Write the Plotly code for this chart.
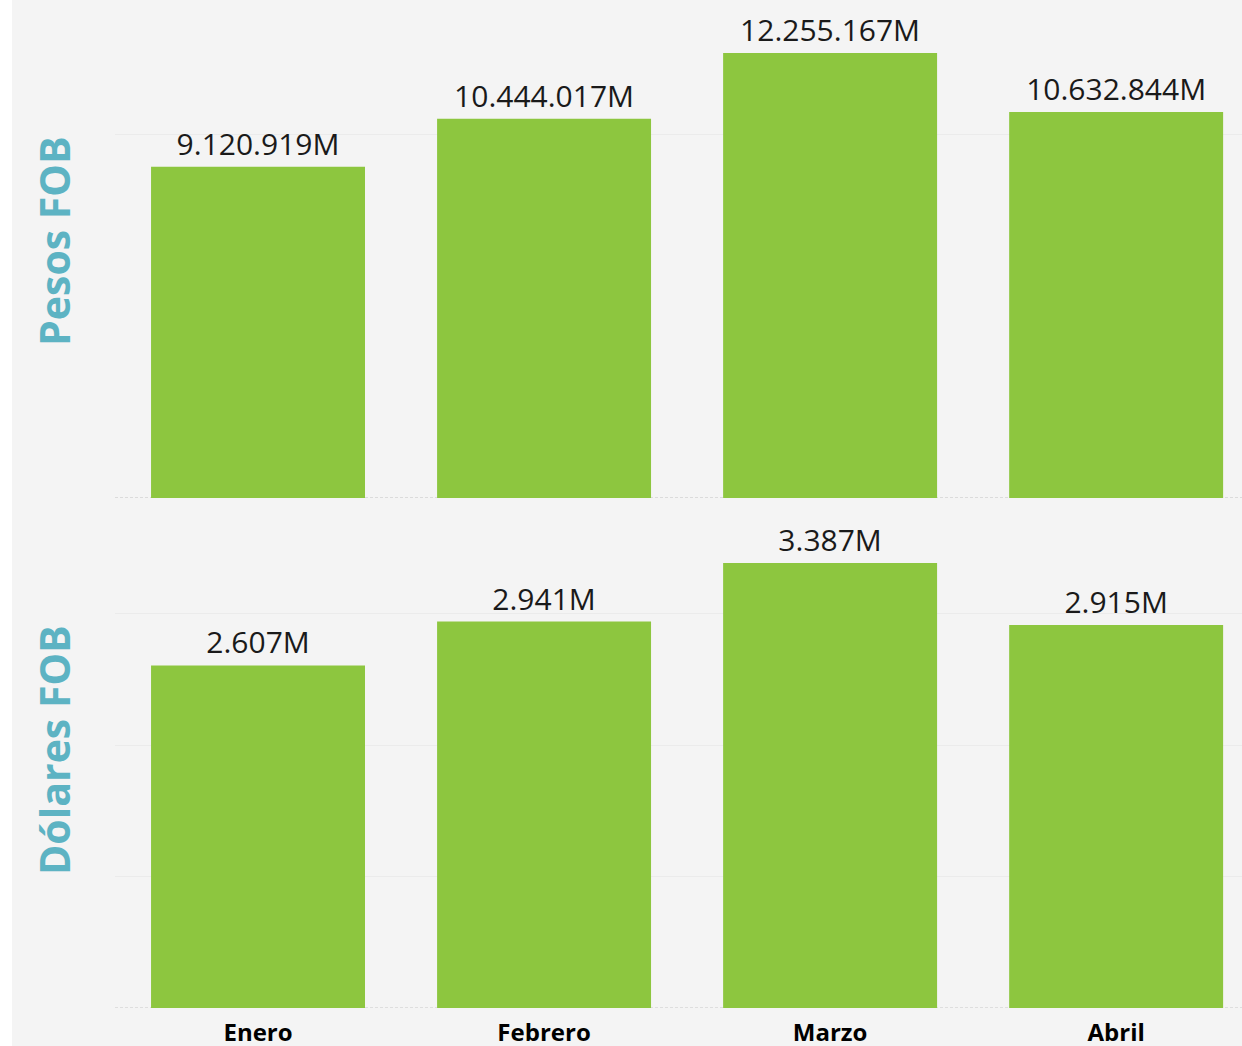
import plotly.graph_objects as go
from plotly.subplots import make_subplots

meses = ["Enero", "Febrero", "Marzo", "Abril"]
pesos_fob_millones = [9120919, 10444017, 12255167, 10632844]
dolares_fob_millones = [2607, 2941, 3387, 2915]
titulos = ["Pesos FOB", "Dólares FOB"]

BAR = "#8dc63f"
BG = "#f4f4f4"
TEAL = "#5db3c3"

fig = make_subplots(rows=2, cols=1, shared_xaxes=True, vertical_spacing=0.012)

for i, vals in enumerate([pesos_fob_millones, dolares_fob_millones], start=1):
    fig.add_trace(go.Bar(
        x=meses, y=vals, marker_color=BAR, marker_line_width=0,
        texttemplate="%{y:,.0f}M", textposition="outside",
        textfont=dict(family="Open Sans", size=30, color="#1a1a1a"),
        cliponaxis=False, showlegend=False, hoverinfo="skip",
    ), row=i, col=1)

fig.update_layout(
    width=1242, height=1046,
    margin=dict(l=115, r=0, t=0, b=38, autoexpand=False),
    paper_bgcolor=BG, plot_bgcolor=BG,
    separators=",.",
    bargap=0.252,
    font=dict(family="Open Sans"),
)

fig.update_xaxes(showgrid=False, zeroline=False, showline=False, ticks="",
                 range=[-0.5, 3.44], automargin=False)
fig.update_xaxes(showticklabels=False, row=1, col=1)
fig.update_xaxes(tickfont=dict(family="Open Sans", size=24, color="#000000"),
                 ticklabelstandoff=8, tickprefix="<b>", ticksuffix="</b>", row=2, col=1)

fig.update_yaxes(showticklabels=False, zeroline=False, showline=False,
                 gridcolor="#ebebeb", gridwidth=1, ticks="", automargin=False)
fig.update_yaxes(domain=[0.506, 1.0], range=[0, 13715000], dtick=10000000, row=1, col=1)
fig.update_yaxes(domain=[0.0, 0.494], range=[0, 3790], dtick=1000, row=2, col=1)

# dashed baselines
for xr, yr in [("x domain", "y"), ("x2 domain", "y2")]:
    fig.add_shape(type="line", xref=xr, yref=yr,
                  x0=0, x1=1, y0=0, y1=0, layer="below",
                  line=dict(color="#c8c8c8", width=1, dash="3px,2px"))

# white strip at left edge
fig.add_shape(type="rect", xref="paper", yref="paper",
              x0=-115/1127, x1=-103/1127, y0=-38/1008, y1=1.0,
              fillcolor="white", line_width=0, layer="below")

for t, yc in zip(titulos, [0.760, 0.256]):
    fig.add_annotation(text="<b>" + t + "</b>", xref="paper", yref="paper",
                       x=-0.0541, y=yc, textangle=-90, showarrow=False,
                       xanchor="center", yanchor="middle",
                       font=dict(family="Open Sans", size=41, color=TEAL))

post = (
    "var h=document.documentElement,b=document.body;"
    "h.style.margin='0';h.style.padding='0';h.style.overflow='hidden';h.style.height='1046px';"
    "b.style.margin='0';b.style.padding='0';b.style.overflow='hidden';b.style.height='1046px';"
    "b.style.lineHeight='0';b.style.fontSize='0';"
)
fig.write_html("out.html", config={"displayModeBar": False}, post_script=post)
